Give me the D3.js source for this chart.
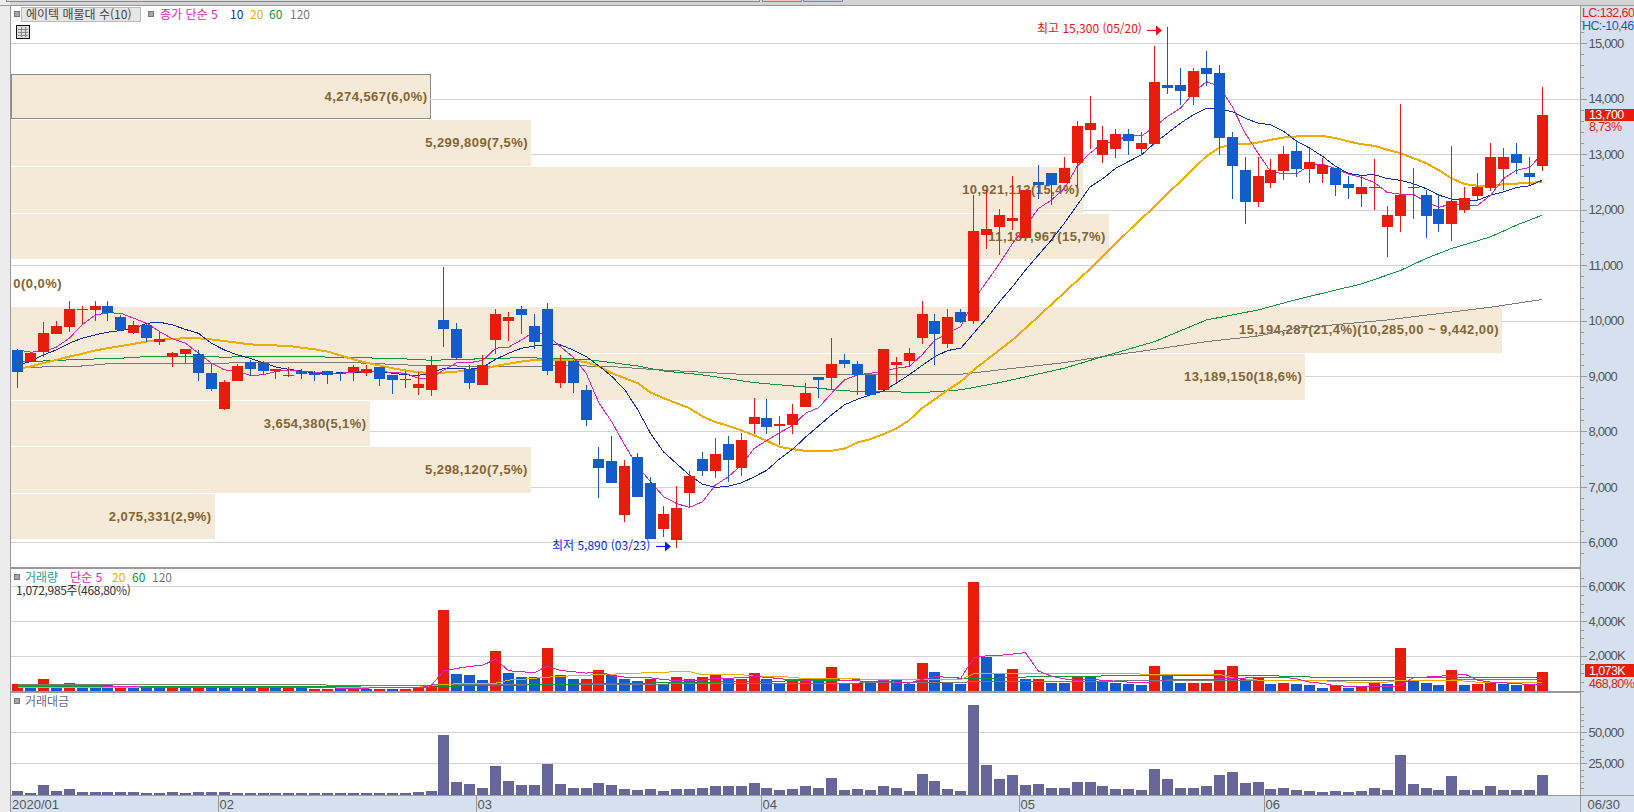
<!DOCTYPE html>
<html lang="ko">
<head>
<meta charset="utf-8">
<script src="https://d3js.org/d3.v7.min.js"></script>
<style>
html,body{margin:0;padding:0;background:#fff;overflow:hidden}
svg{display:block}
text{font-family:"Liberation Sans","Noto Sans CJK KR",sans-serif;font-size:12px}
.ko{font-family:"Noto Sans CJK KR",sans-serif;font-size:12px}
.ko2{font-family:"Noto Sans CJK KR",sans-serif;font-size:12px;letter-spacing:-.3px}
.val{font-size:12.5px;letter-spacing:-.6px}
.axis text{fill:#555;font-size:13px;letter-spacing:-.8px}
.axis path,.axis line{stroke:#999;shape-rendering:crispEdges}
.band-label{font-weight:700;font-size:13px;letter-spacing:.45px;fill:#836534;text-anchor:end}
</style>
</head>
<body>
<div id="chart"></div>
<script>
// ---- price candles (one entry per trading day) ----
const high=[9480,9440,9970,9990,10350,10260,10350,10350,10100,9990,9960,9790,9430,9490,9470,9220,8930,9220,9290,9270,9130,9160,9130,9090,9090,9070,9200,9200,9160,9020,9090,9070,9360,10960,9950,9190,9370,10210,10150,10260,10120,10320,9370,9290,8840,7720,7920,7480,7610,7180,6650,7010,7290,7630,7880,7920,7970,8600,8580,8280,8490,8870,8980,9680,9400,9270,9020,9490,9340,9500,10350,10120,10210,10210,12260,12350,12010,12610,12350,12800,12660,12950,13600,14050,13510,13450,13450,13400,14950,15300,14550,14550,14860,14610,13400,12950,12950,12910,13150,13260,13110,12940,12750,12610,12610,12910,12070,13910,12750,12350,12260,13150,12410,12660,13200,13110,13200,12950,14210];
const low=[8790,9250,9340,9760,9790,9940,9990,9990,9810,9760,9610,9560,9160,9230,8910,8730,8390,8910,9000,9020,8950,8980,8950,8910,8860,8910,8910,9000,8820,8670,8780,8660,8640,9520,9290,8760,8840,9400,9630,9760,9490,9020,8780,8690,8100,6800,7070,6370,6820,6060,6090,5890,6620,7190,7160,7090,7190,7960,7950,7750,7950,8440,8600,8760,9140,8660,8660,8750,8890,9160,9580,9200,9500,9950,9940,11290,11180,11630,11490,12190,12080,12480,12390,13090,12840,12930,12990,12990,13180,14090,13890,13890,14230,12990,12190,11740,12050,12390,12530,12590,12480,12480,12250,12190,12050,11990,11150,11600,11830,11490,11600,11430,11940,12160,12340,12350,12640,12440,12700];
const open=[9470,9250,9440,9760,9880,10190,10190,10260,10060,9780,9920,9610,9340,9400,9400,9050,8400,8910,9250,9230,9090,9000,9090,9050,9090,9050,9070,9050,9160,9020,8950,8780,8750,10010,9850,9120,8840,9650,9990,10210,9900,10210,8870,9270,8750,7500,7470,6490,7540,7070,6240,6040,6890,7500,7290,7770,7340,8130,8240,8100,8110,8440,8980,8960,9290,9220,9020,8750,9200,9270,9680,9990,9580,10150,9990,11540,11690,11790,11490,12500,12660,12480,12840,13440,12990,13090,13360,13090,13180,14250,14250,14030,14550,14460,13310,12710,12140,12480,12700,13060,12730,12640,12750,12460,12280,12390,11690,11890,12390,12260,12010,11740,11990,12250,12390,12730,13000,12660,12790];
const close=[9080,9410,9780,9900,10210,10210,10260,10130,9830,9920,9680,9670,9410,9490,9050,8760,8890,9180,9130,9090,9130,9020,9040,9020,9020,9040,9160,9130,8950,8930,8930,8860,9200,9850,9320,8870,9190,10120,10060,10100,9610,9090,9270,8870,8200,7340,7070,7380,6820,6060,6510,6620,7190,7290,7590,7480,7840,8260,8080,8130,8310,8690,8930,9220,9220,9020,8660,9490,9250,9410,10120,9760,10060,9970,11610,11650,11900,11850,12350,12440,12440,12750,13510,13560,13260,13360,13240,13200,14300,14190,14140,14500,14450,13290,12790,12140,12610,12710,13000,12730,12860,12810,12440,12390,12410,12410,11900,12260,12410,11890,11740,12160,12210,12410,12950,12950,12840,12590,13700];

// ---- price moving averages ----
const ma5=[9470,9430,9440,9520,9680,9920,10100,10140,10130,10040,9950,9800,9670,9590,9410,9230,9110,9090,9010,9020,9080,9110,9080,9070,9050,9050,9070,9080,9090,9060,9050,8960,8960,9110,9240,9240,9280,9500,9520,9650,9800,9740,9530,9340,9050,8510,8170,7750,7360,7090,6820,6700,6630,6730,7030,7180,7390,7690,7840,7980,8110,8330,8430,8690,8930,9020,9050,9080,9140,9170,9380,9650,9770,9890,10370,10700,11030,11390,11690,12020,12170,12380,12780,13020,13200,13230,13350,13330,13500,13680,13830,14100,14310,14220,13860,13380,13020,12680,12650,12650,12800,12820,12740,12640,12580,12490,12310,12280,12280,12140,12040,12110,12080,12080,12260,12560,12710,12760,13000];
const ma10=[9200,9260,9380,9470,9590,9680,9740,9790,9820,9860,9950,9970,9920,9840,9770,9590,9470,9380,9320,9240,9160,9120,9090,9050,9040,9060,9070,9070,9080,9050,9020,9010,9050,9140,9140,9120,9160,9300,9410,9500,9540,9560,9560,9470,9350,9180,8990,8750,8390,7960,7630,7420,7210,7050,6990,7010,7070,7180,7300,7510,7680,7900,8100,8300,8480,8580,8660,8730,8870,9020,9190,9350,9460,9500,9770,10040,10340,10610,10910,11180,11450,11750,12080,12410,12560,12750,12870,12990,13200,13380,13560,13710,13830,13810,13770,13650,13560,13530,13410,13230,13110,12960,12780,12650,12620,12630,12560,12530,12470,12380,12260,12190,12170,12170,12260,12320,12400,12430,12530];
const ma20=[9130,9170,9230,9290,9350,9400,9460,9500,9540,9580,9620,9650,9670,9680,9680,9660,9630,9600,9570,9560,9550,9540,9510,9480,9440,9370,9300,9240,9190,9140,9100,9070,9050,9060,9080,9090,9120,9180,9220,9260,9290,9300,9290,9280,9250,9170,9050,8960,8870,8700,8600,8510,8420,8270,8170,8100,8020,7930,7830,7720,7680,7650,7650,7650,7690,7800,7860,7950,8050,8200,8420,8580,8750,8900,9110,9290,9470,9650,9860,10070,10290,10500,10720,10930,11160,11390,11620,11840,12060,12290,12510,12740,12960,13120,13170,13180,13210,13260,13300,13320,13330,13330,13290,13230,13180,13150,13080,13020,12930,12840,12710,12560,12460,12430,12430,12460,12470,12480,12500];
const ma60Day=[0,5,8,10,12,16,19,25,28,31,32,33,39,41,44,48,50,53,57,59,62,64,67,70,73,76,81,84,88,92,96,99,104,107,109,111,114,116,118];
const ma60=[9250,9300,9320,9350,9360,9340,9350,9340,9320,9300,9280,9290,9330,9320,9300,9180,9090,9020,8880,8840,8780,8730,8720,8700,8750,8880,9140,9350,9620,10010,10190,10380,10660,10900,11120,11300,11510,11720,11900];
const ma120Day=[0,5,6,7,11,12,16,17,26,28,31,33,36,41,44,46,49,52,56,59,70,73,76,81,84,88,92,96,99,106,114,118];
const ma120=[9150,9180,9200,9220,9220,9230,9230,9240,9240,9220,9190,9190,9160,9180,9180,9170,9120,9080,9030,9030,9030,9030,9110,9240,9350,9480,9620,9720,9860,10010,10240,10380];

// ---- 10 volume-profile bands, top to bottom ----
const bandVolume=[4274567,5299809,10921113,11187967,0,15194287,13189150,3654380,5298120,2075331];
const bandTop=[14440,13620,12770,11920,11090,10240,9400,8550,7720,6870];
const bandBottom=[13650,12790,11940,11110,10260,9420,8570,7730,6890,6060];
const bandLabel=["4,274,567(6,0%)","5,299,809(7,5%)","10,921,113(15,4%)","11,187,967(15,7%)","0(0,0%)","15,194,287(21,4%)(10,285,00 ~ 9,442,00)","13,189,150(18,6%)","3,654,380(5,1%)","5,298,120(7,5%)","2,075,331(2,9%)"];

// ---- volume panel (thousand shares) ----
const volume=[350,230,690,350,460,170,170,350,230,230,120,120,230,120,230,230,230,170,170,230,120,170,170,60,60,120,120,60,60,60,60,120,290,4630,930,870,580,2260,980,750,750,2430,870,640,640,1160,870,640,520,640,350,750,690,750,870,690,690,980,640,350,520,690,580,1330,410,440,410,580,580,350,1560,1040,410,350,6240,1910,980,1210,640,640,460,460,750,750,520,410,350,290,1390,930,410,410,460,1160,1390,640,750,350,410,350,290,170,290,170,230,410,350,2430,520,460,290,1160,290,350,460,350,290,290,1073];
const volumeColor=["r","b","r","b","r","b","b","b","r","b","b","b","r","b","r","b","b","b","b","r","b","r","b","r","r","b","r","b","r","b","r","r","r","r","b","b","b","r","b","b","b","r","b","b","r","r","b","b","b","r","b","r","b","r","r","b","r","r","b","b","r","r","b","r","b","r","b","r","b","b","r","b","b","b","r","b","b","r","b","r","b","b","r","b","b","b","b","b","r","b","b","r","r","r","r","b","r","b","r","b","b","b","r","b","r","r","b","r","b","b","b","r","b","r","r","b","b","r","r"];
const volMa5Day=[0,5,10,15,20,25,31,32,33,34,35,36,37,38,39,40,41,42,43,44,45,46,47,48,49,50,51,52,53,54,55,56,57,58,59,60,61,62,63,64,65,66,67,68,69,70,71,72,73,74,75,76,77,78,79,80,81,82,83,86,87,88,89,91,93,94,96,97,98,99,100,101,102,103,105,106,107,108,109,110,111,112,113,114,115,116,117,118];
const volMa5=[290,290,190,190,190,140,150,290,1120,1270,1390,1450,1810,1140,1080,1020,1410,1160,1080,1000,1120,850,770,730,730,620,580,580,600,690,710,730,790,770,670,640,580,640,650,580,560,500,580,480,420,640,790,770,710,1890,2000,2020,2100,2180,1120,830,670,580,640,480,440,500,620,620,670,670,770,770,770,670,480,410,270,250,210,210,290,730,770,830,850,940,600,480,440,410,330,330,480];
const volMa20Day=[0,31,33,35,37,38,39,41,43,46,48,51,52,53,56,57,60,61,65,66,73,74,82,86,87,93,94,96,100,103,106,107,111,113,118];
const volMa20=[190,190,350,420,420,600,640,770,850,940,1000,1080,1080,910,910,830,770,670,670,620,640,960,1000,1000,940,940,730,600,600,480,480,600,600,480,480];
const volMa60Day=[0,26,27,32,33,38,41,50,57,66,74,80,97,102,118];
const volMa60=[250,250,170,170,250,290,350,440,520,620,670,830,850,730,730];
const volMa120Day=[0,23,24,32,33,38,49,60,73,76,82,118];
const volMa120=[370,370,310,310,350,350,370,400,480,540,540,620];

// ---- trading value panel ----
const tradingValue=[3200,1600,7300,3200,4800,2400,2400,2400,2400,2400,1600,1600,2400,1600,2400,2400,2400,1600,1600,1600,1600,1600,1600,1600,1600,1600,1600,1600,1600,1600,1600,2400,3200,47600,9700,8100,5600,22600,10500,7300,7300,24200,8100,5600,5600,8900,7300,4800,4000,4800,3200,4800,4800,5600,6500,6500,6500,8900,5600,4000,4800,6500,5600,12900,4000,4800,4000,6500,5600,3200,16100,10500,4800,3200,71800,23400,12100,15300,7300,8100,5600,5600,9700,9700,6500,4800,4800,4000,20200,12100,5600,5600,6500,15300,17700,8900,9700,4800,5600,4000,3200,2400,3200,2400,3200,5600,4000,31500,8100,5600,4000,14500,4000,4000,6500,4000,4000,4000,15300];

// ---- axes ----
const priceTicks=[6000,7000,8000,9000,10000,11000,12000,13000,14000,15000];
const volumeTicks=[2000,4000,6000];
const valueTicks=[25000,50000];
const monthStartDay=[16,36,58,78,97];
const monthLabels=["02","03","04","05","06"];

const W=1634,H=812;
const RED="#e81c0a",BLUE="#125dcb",MAG="#e01fc0",NAVY="#0b2fae",ORG="#f0ac00",GRN="#0a9a3c",GRY="#7a7a7a";
const plotL=11,plotR=1580.5,axisBg="#d6e1ef";

const x=d3.scaleLinear().domain([0,118]).range([17.5,1542.3]);
const yP=d3.scaleLinear().domain([6000,15000]).range([542.3,43.3]);
const yV=d3.scaleLinear().domain([0,6000]).range([690.5,586.3]);
const yT=d3.scaleLinear().domain([0,50000]).range([794.5,732.3]);
const bandX=d3.scaleLinear().domain([0,15194287]).range([plotL,1502]);
const cx=i=>Math.floor(x(i))+.5;

const svg=d3.select("#chart").append("svg").attr("width",W).attr("height",H).attr("viewBox",`0 0 ${W} ${H}`);
const crisp=g=>g.attr("shape-rendering","crispEdges");

// frame background
svg.append("rect").attr("width",W).attr("height",H).attr("fill","#fff");
svg.append("rect").attr("width",W).attr("height",5).attr("fill","#d4d4d4");
svg.append("rect").attr("width",10).attr("height",H).attr("fill","#ececec");
svg.append("rect").attr("x",plotR).attr("y",5).attr("width",W-plotR).attr("height",H-5).attr("fill",axisBg);
svg.append("rect").attr("x",plotL).attr("y",796).attr("width",W-plotL).attr("height",16).attr("fill",axisBg);
// window tabs along the top edge
const tabs=svg.append("g").attr("stroke","#888").call(crisp);
tabs.append("rect").attr("x",6.5).attr("y",-3).attr("width",753).attr("height",4.5).attr("fill","#dcdcdc");
tabs.append("rect").attr("x",762.5).attr("y",-3).attr("width",39).attr("height",4.5).attr("fill","#f0c4c0");
tabs.append("rect").attr("x",803.5).attr("y",-3).attr("width",39).attr("height",4.5).attr("fill","#b8cde8");

// bands
const gBand=svg.append("g").call(crisp);
gBand.selectAll("rect").data(bandVolume).join("rect").filter(d=>d>0)
  .attr("x",plotL).attr("width",d=>bandX(d)-plotL)
  .attr("y",(d,i)=>yP(bandTop[bandVolume.indexOf(d)]))
  .attr("height",d=>{const k=bandVolume.indexOf(d);return yP(bandBottom[k])-yP(bandTop[k]);})
  .attr("fill","#f5e9d8");
// selected band outline
svg.append("rect").attr("x",plotL).attr("y",yP(bandTop[0])).attr("width",bandX(bandVolume[0])-plotL)
  .attr("height",yP(bandBottom[0])-yP(bandTop[0])).attr("fill","none").attr("stroke","#8a8a8a").call(crisp);

// gridlines; the bands hide those running beneath them
const grid=svg.append("g").attr("stroke","#d4d4d4").call(crisp);
const bandCovers=p=>{for(let k=0;k<bandVolume.length;k++){if(p<=bandTop[k]&&p>=bandBottom[k])return bandX(bandVolume[k]);}return plotL;};
grid.selectAll("line.p").data(priceTicks).join("line").attr("class","p")
  .attr("x1",d=>bandCovers(d)).attr("x2",plotR).attr("y1",d=>Math.round(yP(d))+.5).attr("y2",d=>Math.round(yP(d))+.5);
grid.selectAll("line.v").data(volumeTicks).join("line").attr("class","v")
  .attr("x1",plotL).attr("x2",plotR).attr("y1",d=>Math.round(yV(d))+.5).attr("y2",d=>Math.round(yV(d))+.5);
grid.selectAll("line.t").data(valueTicks).join("line").attr("class","t")
  .attr("x1",plotL).attr("x2",plotR).attr("y1",d=>Math.round(yT(d))+.5).attr("y2",d=>Math.round(yT(d))+.5);

// band labels
svg.append("g").selectAll("text").data(bandLabel).join("text").attr("class","band-label")
  .attr("x",(d,k)=>bandVolume[k]>0?bandX(bandVolume[k])-3:62)
  .attr("y",(d,k)=>(yP(bandTop[k])+yP(bandBottom[k]))/2+4.5)
  .text(d=>d);

// price moving averages
const priceLine=(days,vals,color,w)=>{
  const l=d3.line().x((d,i)=>x(days?days[i]:i)).y(d=>yP(d));
  svg.append("path").attr("d",l(vals)).attr("fill","none").attr("stroke",color).attr("stroke-width",w).call(crisp);
};
priceLine(ma120Day,ma120,GRY,1);
priceLine(ma60Day,ma60,GRN,1);
priceLine(null,ma20,ORG,2);
priceLine(null,ma10,NAVY,1);
priceLine(null,ma5,MAG,1);

// candles
const candles=svg.append("g").call(crisp);
close.forEach((c,i)=>{
  const col=c>=open[i]?RED:BLUE, top=Math.max(c,open[i]), bot=Math.min(c,open[i]);
  candles.append("rect").attr("x",cx(i)-.5).attr("width",1).attr("y",yP(high[i])).attr("height",yP(low[i])-yP(high[i])).attr("fill",col);
  candles.append("rect").attr("x",cx(i)-5.5).attr("width",11).attr("y",yP(top)).attr("height",Math.max(1,yP(bot)-yP(top))).attr("fill",col);
});

// volume bars
const gVol=svg.append("g").call(crisp);
gVol.selectAll("rect").data(volume).join("rect")
  .attr("x",(d,i)=>cx(i)-5.5).attr("width",11).attr("y",d=>yV(d)).attr("height",d=>yV(0)+.5-yV(d))
  .attr("fill",(d,i)=>volumeColor[i]==="r"?RED:BLUE);
const volLine=(days,vals,color,w)=>{
  const l=d3.line().x((d,i)=>x(days[i])).y(d=>yV(d));
  svg.append("path").attr("d",l(vals)).attr("fill","none").attr("stroke",color).attr("stroke-width",w).call(crisp);
};
volLine(volMa120Day,volMa120,GRY,1);
volLine(volMa60Day,volMa60,GRN,1);
volLine(volMa20Day,volMa20,ORG,1);
volLine(volMa5Day,volMa5,MAG,1);

// trading value bars
svg.append("g").call(crisp).selectAll("rect").data(tradingValue).join("rect")
  .attr("x",(d,i)=>cx(i)-5.5).attr("width",11).attr("y",d=>yT(d)).attr("height",d=>yT(0)+.5-yT(d)).attr("fill","#67669a");

// frame lines
const frame=svg.append("g").attr("stroke","#999").call(crisp);
[[10.5,5,10.5,H,1.5],[0,5.5,W,5.5,1.5],[plotL,568,plotR,568,1.5],[plotL,691.5,plotR,691.5,2],[plotL,795.5,W,795.5,1.5],[plotR,5,plotR,H,1.5]]
  .forEach(([a,b,c,d,w])=>frame.append("line").attr("x1",a).attr("y1",b).attr("x2",c).attr("y2",d).attr("stroke-width",w));

// right axes
const axisAt=(scale,major,fmt,minor)=>{
  svg.append("g").attr("class","axis").attr("transform",`translate(${plotR},0)`)
    .call(d3.axisRight(scale).tickValues(minor).tickSize(3).tickFormat("")).call(g=>g.select(".domain").remove());
  const g=svg.append("g").attr("class","axis").attr("transform",`translate(${plotR},0)`)
    .call(d3.axisRight(scale).tickValues(major).tickSize(6).tickPadding(2).tickFormat(fmt));
  g.select(".domain").remove();
};
axisAt(yP,priceTicks,d3.format(","),d3.range(5800,15401,200));
axisAt(yV,volumeTicks,d=>d3.format(",")(d)+"K",d3.range(0,6501,500));
axisAt(yT,valueTicks,d3.format(","),d3.range(0,70001,5000));

// bottom date axis
const gDate=svg.append("g");
gDate.append("text").attr("x",plotL+1).attr("y",809).attr("fill","#555").style("font-size","13px").text("2020/01");
monthStartDay.forEach((m,k)=>{
  const px=Math.round(x(m-.5))+.5;
  gDate.append("line").attr("x1",px).attr("x2",px).attr("y1",796).attr("y2",812).attr("stroke","#999").call(crisp);
  gDate.append("text").attr("x",px+1).attr("y",809).attr("fill","#555").style("font-size","13px").text(monthLabels[k]);
});
gDate.append("text").attr("x",plotR+7).attr("y",809).attr("fill","#555").style("font-size","13px").text("06/30");

// legends
const put=(t,px,py,color,cls)=>svg.append("text").attr("x",px).attr("y",py).attr("fill",color).attr("class",cls||"ko").text(t);
const sq=(px,py)=>svg.append("rect").attr("x",px).attr("y",py).attr("width",5).attr("height",5).attr("fill","#a8a8a8").attr("stroke","#777").call(crisp);
sq(14.5,11.5);
svg.append("rect").attr("x",21.5).attr("y",7.5).attr("width",119).attr("height",14).attr("fill","#e6e6e6").attr("stroke","#bbb").call(crisp);
put("에이텍 매물대 수(10)",26,18.5,"#444");
sq(148.5,11.5);
put("종가 단순 5",160,18.5,MAG);
put("10",230,18.5,NAVY);
put("20",250,18.5,ORG);
put("60",269,18.5,GRN);
put("120",290,18.5,GRY);
// table icon
const ic=svg.append("g").call(crisp);
ic.append("rect").attr("x",16.5).attr("y",25.5).attr("width",13).attr("height",13).attr("fill","#ddd").attr("stroke","#111");
[21,25].forEach(v=>ic.append("line").attr("x1",v).attr("x2",v).attr("y1",27).attr("y2",37).attr("stroke","#888"));
[29,32,35].forEach(v=>ic.append("line").attr("x1",18).attr("x2",28).attr("y1",v).attr("y2",v).attr("stroke","#888"));

sq(14.5,574.5);
put("거래량",25,581.5,"#2f9a96");
put("단순 5",70,581.5,MAG);
put("20",112,581.5,ORG);
put("60",132,581.5,GRN);
put("120",152,581.5,GRY);
put("1,072,985주(468,80%)",16,594.5,"#333","ko2");
sq(14.5,698.5);
put("거래대금",25,705.5,"#67669a");

// annotations
const arrow=(x0,x1,yy,col)=>{
  svg.append("line").attr("x1",x0).attr("x2",x1-4).attr("y1",yy).attr("y2",yy).attr("stroke",col).attr("stroke-width",1.2);
  svg.append("path").attr("d",d3.line()([[x1-6,yy-5],[x1,yy],[x1-6,yy+5]])+"Z").attr("fill",col);
};
put("최고 15,300 (05/20)",1037,33,"#f01010");
arrow(1147,1162,30.5,"#f01010");
put("최저 5,890 (03/23)",552,549.5,"#0a1ff0");
arrow(656,671,546.5,"#0a1ff0");

// right side value tags
put("LC:132,60",1582,17,"#e81c0a","val");
put("HC:-10,46",1582,29.5,"#125dcb","val");
svg.append("rect").attr("x",1585).attr("y",108.5).attr("width",49).attr("height",12.5).attr("fill",RED).call(crisp);
put("13,700",1589,119,"#fff","val");
put("8,73%",1589,131,"#e81c0a","val");
svg.append("rect").attr("x",1585).attr("y",664).attr("width",49).attr("height",13).attr("fill",RED).call(crisp);
put("1,073K",1589,675,"#fff","val");
put("468,80%",1589,688,"#e81c0a","val");
</script>
</body>
</html>
